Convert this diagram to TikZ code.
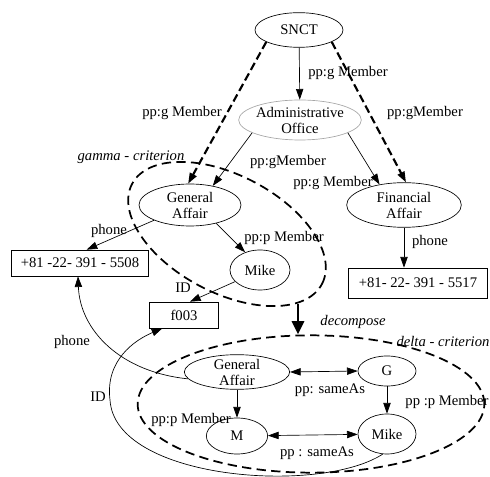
\documentclass[tikz,border=0pt]{standalone}
\usepackage{fontspec}
\setmainfont{Liberation Serif}
\usetikzlibrary{shapes.geometric, arrows.meta}

\begin{document}
\begin{tikzpicture}[x=0.75pt, y=-0.75pt, font=\fontsize{11}{12}\selectfont,
  >={Triangle[length=8pt, width=5.5pt]},
  ent/.style={draw, ellipse, line width=0.5pt, inner xsep=-2pt, inner ysep=-4pt, align=center},
  val/.style={draw, rectangle, line width=0.5pt, inner sep=0pt},
  crit/.style={draw, ellipse, dashed, line width=1.3pt, dash pattern=on 7pt off 4pt, inner sep=0pt},
  arr/.style={->, line width=0.5pt},
  arrtwo/.style={<->, line width=0.5pt},
  grp/.style={->, line width=1.6pt, dash pattern=on 6pt off 3pt},
  decarr/.style={-{Triangle[length=10pt, width=9pt]}, line width=2.2pt},
  lbl/.style={inner sep=1pt},
  itl/.style={inner sep=1pt, font=\fontsize{11}{12}\selectfont\itshape}]
  \useasboundingbox (0,0) rectangle (490,477);

  % Upper graph
  \node[ent, minimum width=66pt, minimum height=26pt] (snct) at (299,30) {SNCT};
  \node[ent, draw=black!35, minimum width=92pt, minimum height=30pt] (adm) at (300,120) {Administrative\\Office};
  \node[ent, minimum width=76.5pt, minimum height=31.5pt] (ga) at (190,205) {General\\Affair};
  \node[ent, minimum width=86pt, minimum height=33.5pt] (fa) at (404,205) {Financial\\Affair};
  \node[ent, minimum width=45pt, minimum height=30pt] (mike) at (260,270) {Mike};
  \node[val, minimum width=103pt, minimum height=19.5pt] (ph1) at (80,263) {+81 -22- 391 - 5508};
  \node[val, minimum width=104pt, minimum height=22.5pt] (ph2) at (418,283) {+81- 22- 391 - 5517};
  \node[val, minimum width=52pt, minimum height=19.5pt] (fid) at (184,315) {f003};

  \draw[arr] (snct) -- (adm);
  \draw[grp] (snct.200) -- (ga.95);
  \draw[grp] (snct.340) -- (fa.85);
  \draw[arr] (adm.195) -- (ga.40);
  \draw[arr] (adm.345) -- (fa.140);
  \draw[arr] (ga.203) -- ([xshift=5pt]ph1.north);
  \draw[arr] (ga.325) -- (mike.130);
  \draw[arr] (mike.205) -- ([xshift=4.5pt]fid.north);
  \draw[arr] (fa.south) -- (fa.south |- ph2.north);

  \node[lbl] (l-sa) at (348,73) {pp:g Member};
  \node[lbl] (l-sg) at (182,113) {pp:g Member};
  \node[lbl] (l-sf) at (425,113) {pp:gMember};
  \node[lbl] (l-ag) at (288,162) {pp:gMember};
  \node[lbl] (l-af) at (333,183) {pp:g Member};
  \node[lbl] (l-ph1) at (109,231) {phone};
  \node[lbl] (l-gm) at (284,238) {pp:p Member};
  \node[lbl] (l-id1) at (183,288) {ID};
  \node[lbl] (l-ph2) at (430,242) {phone};

  % gamma region and decomposition
  \node[crit, minimum width=161pt, minimum height=88pt, rotate=-27.8] (gam) at (227,234) {};
  \node[itl] (l-gam) at (131,157) {gamma - criterion};
  \node[crit, minimum width=260pt, minimum height=103pt] (dlt) at (311,404) {};
  \node[itl] (l-dlt) at (443,341) {delta - criterion};

  \coordinate (dec) at (298,304);
  \draw[decarr] (dec) -- (dec |- dlt.north);
  \node[itl] (l-dec) at (353,322) {decompose};

  % Lower graph
  \node[ent, minimum width=79pt, minimum height=26pt] (gal) at (237,372) {General\\Affair};
  \node[ent, minimum width=43.5pt, minimum height=22.5pt] (g) at (387,371) {G};
  \node[ent, minimum width=46pt, minimum height=27pt] (m) at (237,436) {M};
  \node[ent, minimum width=43.5pt, minimum height=30pt] (mikel) at (387,434) {Mike};

  \draw[arrtwo] (gal.east) -- (g.west);
  \draw[arr] (g) -- (mikel);
  \draw[arr] (gal) -- (m);
  \draw[arrtwo] (m) -- (mikel);

  \node[lbl] (l-same1) at (330,390) {pp: sameAs};
  \node[lbl] (l-gmk) at (447,402) {pp :p Member};
  \node[lbl] (l-gam2) at (191,420) {pp:p Member};
  \node[lbl] (l-same2) at (317,453) {pp : sameAs};

  % links back to the values
  \draw[arr] (gal.188) .. controls (120,372) and (80,330) .. ([xshift=-1.5pt]ph1.south);
  \draw[arr] (mikel.258) .. controls (320,495) and (115,480) .. (110,400) .. controls (105,360) and (135,340) .. ([xshift=10pt]fid.south west);
  \node[lbl] (l-ph3) at (72,342) {phone};
  \node[lbl] (l-id2) at (98,397) {ID};
\end{tikzpicture}
\end{document}
